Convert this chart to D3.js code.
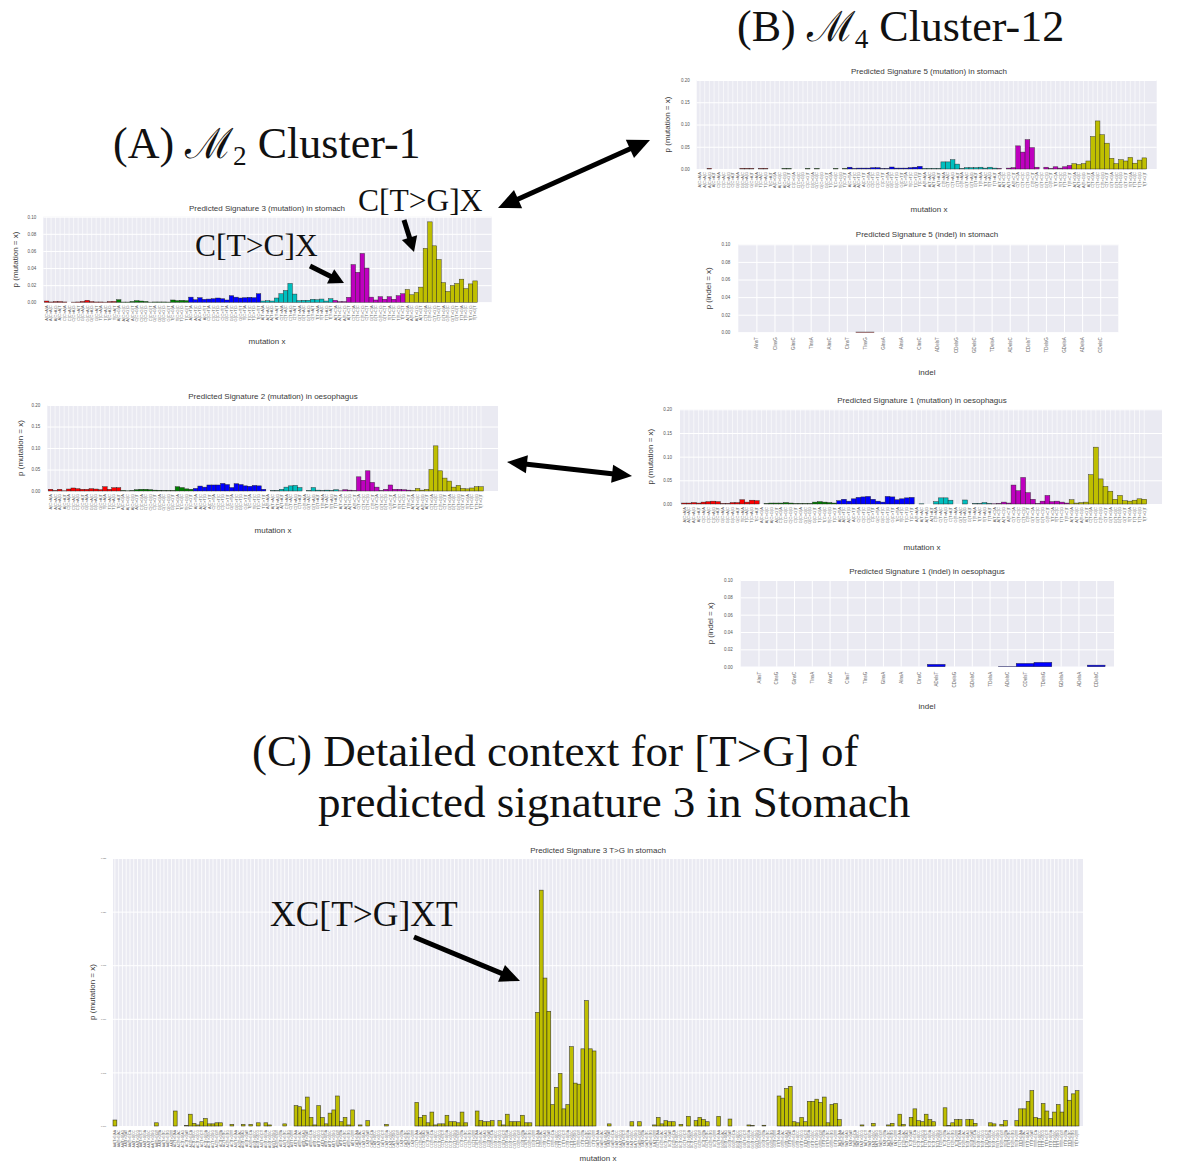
<!DOCTYPE html>
<html>
<head>
<meta charset="utf-8">
<script src="https://cdn.jsdelivr.net/npm/d3@7"></script>
<style>
  body { margin: 0; background: #fff; }
  svg { display: block; }
</style>
</head>
<body>
<script>
// ---------- categories ----------
const bases = ["A", "C", "G", "T"];
const mutationTypes = ["C>A", "C>G", "C>T", "T>A", "T>C", "T>G"];
const typeColors = ["#ff0000", "#008000", "#0000ff", "#00bfbf", "#bf00bf", "#bfbf00"];
const indelLabels = ["AInsT", "CInsG", "GInsC", "TInsA", "AInsC", "CInsT", "TInsG", "GInsA", "AInsA", "CInsC",
                     "ADelsT", "CDelsG", "GDelsC", "TDelsA", "ADelsC", "CDelsT", "TDelsG", "GDelsA", "ADelsA", "CDelsC"];

// ---------- tick values ----------
const yTicks10 = [0, 0.02, 0.04, 0.06, 0.08, 0.10];
const yTicks20 = [0, 0.05, 0.10, 0.15, 0.20];
const yTicksTG = [0, 0.005, 0.010, 0.015, 0.020, 0.025];

// ---------- series ----------
// Predicted Signature 3 (mutation) in stomach
const sig3Stomach = [
  0.0015, 0.0004, 0.0008, 0.0008, 0.0004, 0, 0.0002, 0.0004, 0.001, 0.0023, 0.0008, 0.0004, 0.0004, 0.0002, 0.0008, 0.001,
  0.003, 0.0003, 0.0003, 0.001, 0.0019, 0.0015, 0.001, 0.0002, 0.0004, 0.0004, 0.0004, 0.0003, 0.0027, 0.0019, 0.0023, 0.0019,
  0.006, 0.003, 0.0054, 0.0035, 0.0038, 0.0042, 0.005, 0.0042, 0.0027, 0.0077, 0.006, 0.005, 0.0054, 0.0058, 0.0054, 0.01,
  0.0015, 0.0019, 0.0015, 0.005, 0.01, 0.0138, 0.022, 0.0096, 0.0019, 0.0023, 0.0023, 0.0035, 0.003, 0.0038, 0.0015, 0.0042,
  0.0023, 0.0008, 0.0008, 0.0058, 0.044, 0.035, 0.057, 0.04, 0.006, 0.0027, 0.0065, 0.0035, 0.0065, 0.0035, 0.0077, 0.01,
  0.015, 0.0088, 0.0115, 0.0177, 0.063, 0.094, 0.066, 0.05, 0.023, 0.0127, 0.0196, 0.022, 0.027, 0.016, 0.0215, 0.025
];
// Predicted Signature 2 (mutation) in oesophagus
const sig2Oesophagus = [
  0.004, 0.001, 0.004, 0.0005, 0.0046, 0.007, 0.0054, 0.004, 0.004, 0.0054, 0.0046, 0.003, 0.01, 0.004, 0.0077, 0.0077,
  0.001, 0.0005, 0.001, 0.003, 0.004, 0.004, 0.003, 0.002, 0.0015, 0.001, 0.001, 0.001, 0.01, 0.008, 0.005, 0.004,
  0.006, 0.0115, 0.009, 0.014, 0.014, 0.014, 0.0177, 0.015, 0.008, 0.017, 0.015, 0.012, 0.011, 0.013, 0.012, 0.004,
  0, 0.001, 0.001, 0.004, 0.009, 0.012, 0.013, 0.008, 0, 0.001, 0.008, 0.002, 0.001, 0.002, 0.001, 0.003,
  0.0005, 0.003, 0.002, 0.001, 0.033, 0.025, 0.047, 0.02, 0.009, 0.001, 0.004, 0.014, 0.004, 0.004, 0.003, 0.002,
  0.001, 0.006, 0.002, 0.004, 0.05, 0.105, 0.047, 0.03, 0.023, 0.009, 0.013, 0.006, 0.005, 0.007, 0.01, 0.01
];
// Predicted Signature 5 (mutation) in stomach
const sig5Stomach = [
  0, 0, 0.001, 0, 0, 0, 0, 0, 0, 0.001, 0.001, 0.001, 0, 0.001, 0.001, 0,
  0, 0, 0.001, 0.001, 0, 0, 0, 0.001, 0, 0.001, 0, 0, 0, 0.001, 0, 0.001,
  0.004, 0.001, 0.002, 0.002, 0.002, 0.003, 0.003, 0.001, 0.001, 0.0045, 0.002, 0.002, 0.002, 0.003, 0.004, 0.006,
  0.001, 0.001, 0.001, 0.001, 0.016, 0.016, 0.021, 0.011, 0.001, 0.003, 0.003, 0.003, 0.004, 0.002, 0.004, 0.002,
  0.001, 0, 0.002, 0.003, 0.052, 0.038, 0.066, 0.048, 0.004, 0, 0.004, 0.001, 0.005, 0.002, 0.005, 0.008,
  0.012, 0.01, 0.012, 0.018, 0.073, 0.108, 0.077, 0.058, 0.024, 0.012, 0.021, 0.018, 0.026, 0.013, 0.02, 0.025
];
// Predicted Signature 5 (indel) in stomach
const sig5StomachIndel = [0, 0, 0, 0, 0, 0, 0.0003, 0, 0, 0, 0, 0, 0, 0, 0, 0, 0, 0, 0, 0];
// Predicted Signature 1 (mutation) in oesophagus
const sig1Oesophagus = [
  0.002, 0.002, 0.003, 0.002, 0.004, 0.005, 0.006, 0.005, 0.001, 0.001, 0.003, 0.003, 0.009, 0.004, 0.008, 0.007,
  0, 0.001, 0.002, 0.002, 0.002, 0.003, 0.002, 0.001, 0.001, 0.001, 0.001, 0.004, 0.005, 0.004, 0.003, 0.002,
  0.007, 0.01, 0.006, 0.011, 0.014, 0.015, 0.016, 0.01, 0.006, 0.004, 0.016, 0.015, 0.009, 0.011, 0.013, 0.014,
  0, 0.0005, 0, 0, 0.005, 0.013, 0.013, 0.008, 0, 0, 0.0085, 0, 0.001, 0.001, 0.003, 0.001,
  0.0005, 0.001, 0.004, 0.002, 0.04, 0.028, 0.056, 0.024, 0.01, 0.001, 0.006, 0.018, 0.005, 0.006, 0.004, 0.002,
  0.009, 0.002, 0.003, 0.004, 0.062, 0.12, 0.053, 0.037, 0.027, 0.01, 0.018, 0.007, 0.006, 0.008, 0.011, 0.01
];
// Predicted Signature 1 (indel) in oesophagus
const sig1OesophagusIndel = [0, 0, 0, 0, 0, 0, 0, 0, 0, 0, 0.0027, 0, 0, 0, 0.0003, 0.0038, 0.005, 0, 0, 0.0018];
// Predicted Signature 3 T>G in stomach (two flanking bases on each side)
const sig3TGStomach = [
  0.00056, 0, 0, 0, 0, 0, 0, 0, 0, 0, 0, 0.0003, 0, 0, 0, 0,
  0.0014, 0, 0, 0.00005, 0.0011, 0.00025, 0.0001, 0.0004, 0.0007, 0.0002, 0.0002, 0.0003, 0.0003, 0, 0, 0.00015,
  0, 0, 0.00015, 0, 0.00015, 0, 0.0003, 0, 0.0003, 0.0001, 0, 0, 0, 0.0002, 0, 0,
  0.0019, 0.0018, 0.0015, 0.0027, 0.0008, 0.0001, 0.0019, 0.0008, 0.0002, 0.0012, 0.0015, 0.0028, 0.0004, 0.0008, 0.0001, 0.0015,
  0, 0.0001, 0, 0.0005, 0, 0, 0, 0, 0.00015, 0, 0, 0, 0, 0, 0, 0,
  0.0022, 0.0008, 0.001, 0.0003, 0.0013, 0.0001, 0.0002, 0.0002, 0.001, 0.0004, 0.0004, 0.0003, 0.0013, 0.0003, 0, 0,
  0.0014, 0.0005, 0.0004, 0.0004, 0.0005, 0, 0.0005, 0.0001, 0.0011, 0.0004, 0.0004, 0.0004, 0.001, 0.0003, 0.0003, 0,
  0.0106, 0.022, 0.0138, 0.0107, 0.002, 0.0036, 0.0049, 0.0016, 0.002, 0.0074, 0.004, 0.0039, 0.0072, 0.0117, 0.0072, 0.007,
  0, 0, 0, 0.0002, 0, 0, 0, 0, 0, 0.0004, 0, 0.0004, 0, 0, 0, 0.0001,
  0.0008, 0.0002, 0.0005, 0.0004, 0.0004, 0, 0.00015, 0, 0.0009, 0, 0.0005, 0.0008, 0.0006, 0.0004, 0, 0,
  0.0009, 0, 0, 0.00065, 0, 0, 0, 0, 0.0001, 0.00005, 0, 0, 0.00007, 0, 0, 0,
  0.0028, 0.0026, 0.0035, 0.0037, 0.0004, 0.0003, 0.0008, 0.0004, 0.0023, 0.0023, 0.0025, 0.0022, 0.0027, 0.0003, 0.002, 0.0021,
  0.0006, 0, 0, 0, 0, 0, 0.0001, 0, 0, 0.00025, 0, 0, 0, 0.0001, 0.00025, 0,
  0.0011, 0.00015, 0, 0.0008, 0.0016, 0.0005, 0.0004, 0.0011, 0.0006, 0.0004, 0, 0, 0.0017, 0.00005, 0.0003, 0.0006,
  0.0006, 0, 0.0006, 0.0006, 0.00025, 0, 0, 0, 0.0003, 0.0002, 0, 0.00015, 0.0005, 0, 0, 0.0005,
  0.0016, 0.0016, 0.0023, 0.0033, 0.0008, 0.0007, 0.0021, 0.0014, 0.0007, 0.0013, 0.002, 0.0013, 0.0037, 0.0024, 0.003, 0.0033
];

// ---------- derived label / colour tables ----------
const mutationLabels = mutationTypes.flatMap(t => bases.flatMap(a => bases.map(b => `${a}[${t}]${b}`)));
const mutationColors = mutationTypes.flatMap((t, i) => d3.range(bases.length * bases.length).map(() => typeColors[i]));
const tgLabels = bases.flatMap(a => bases.flatMap(b => bases.flatMap(c => bases.map(d => `${a}${b}[T>G]${c}${d}`))));
const tgColors = tgLabels.map(() => typeColors[5]);
const indelColors = indelLabels.map(() => typeColors[0]);
const indelColorsBlue = indelLabels.map(() => typeColors[2]);

// ---------- drawing ----------
const SANS = "'Liberation Sans', Arial, Helvetica, sans-serif";
const SERIF = "'Liberation Serif', 'Times New Roman', 'DejaVu Serif', serif";
const W = 1178, H = 1163;
const svg = d3.select("body").append("svg").attr("width", W).attr("height", H);
svg.append("rect").attr("width", W).attr("height", H).attr("fill", "#fff");

function barChart(o) {
  const g = svg.append("g");
  const p = o.plot;
  const pw = p.r - p.l, ph = p.b - p.t;
  g.append("rect").attr("x", p.l).attr("y", p.t).attr("width", pw).attr("height", ph).attr("fill", "#eaeaf2");

  const y = d3.scaleLinear().domain(o.yDomain).range([p.b, p.t]);
  let xAxis, barX, bw;
  if (o.bars) {
    const x = d3.scaleBand().domain(o.labels).range(o.bars).padding(0);
    bw = x.bandwidth();
    barX = i => x(o.labels[i]);
    xAxis = d3.axisBottom(x);
  } else {
    const x = d3.scaleLinear().domain([-1, o.labels.length]).range([p.l, p.r]);
    bw = x(1) - x(0);
    barX = i => x(i) - bw / 2;
    xAxis = d3.axisBottom(x).tickValues(d3.range(o.labels.length)).tickFormat(i => o.labels[i]);
  }

  // horizontal grid + y tick labels
  const ya = g.append("g").attr("transform", `translate(${p.l},0)`)
    .call(d3.axisLeft(y).tickValues(o.yTicks).tickSize(-pw).tickSizeOuter(0)
      .tickPadding(o.yPad).tickFormat(d3.format(o.yFmt || ".2f")));
  ya.select(".domain").remove();
  ya.selectAll("line").attr("stroke", "#fff").attr("stroke-width", o.hGrid || 1);
  ya.selectAll("text").attr("font-size", o.yFs).attr("fill", "#555").attr("font-family", SANS);

  // vertical grid + rotated category labels
  const xa = g.append("g").attr("transform", `translate(0,${p.b})`)
    .call(xAxis.tickSize(-ph).tickSizeOuter(0));
  xa.select(".domain").remove();
  xa.selectAll("line").attr("stroke", "#fff").attr("stroke-width", o.vGrid || 0.6);
  xa.selectAll("text").attr("font-size", o.xFs).attr("fill", "#666").attr("font-family", SANS)
    .attr("x", 0).attr("y", 0).attr("dx", -o.xPad).attr("dy", "0.35em")
    .attr("text-anchor", "end").attr("transform", "rotate(-90)");

  // bars
  const pts = o.values.map((v, i) => ({ v, i })).filter(d => d.v > 0);
  g.append("g").selectAll("rect").data(pts).join("rect")
    .attr("x", d => barX(d.i)).attr("width", bw)
    .attr("y", d => y(d.v)).attr("height", d => y(0) - y(d.v))
    .attr("fill", d => o.colors[d.i])
    .attr("stroke", "#1a1a1a").attr("stroke-opacity", 0.8).attr("stroke-width", o.edge || 0.5);

  // titles
  g.append("text").attr("x", o.title.x).attr("y", o.title.y).attr("text-anchor", "middle")
    .attr("font-family", SANS).attr("font-size", 8).attr("fill", "#3a3a3a").text(o.title.text);
  g.append("text").attr("x", o.xLabel.x).attr("y", o.xLabel.y).attr("text-anchor", "middle")
    .attr("font-family", SANS).attr("font-size", 8).attr("fill", "#3a3a3a").text(o.xLabel.text);
  g.append("text").attr("transform", `translate(${o.yLabel.x},${(p.t + p.b) / 2}) rotate(-90)`)
    .attr("text-anchor", "middle").attr("dy", "0.35em")
    .attr("font-family", SANS).attr("font-size", 8).attr("fill", "#3a3a3a").text(o.yLabel.text);
}

// (A) left column
barChart({
  plot: { l: 43.3, t: 216.7, r: 491.7, b: 302.3 }, bars: [44.3, 477.3],
  labels: mutationLabels, values: sig3Stomach, colors: mutationColors,
  yDomain: [0, 0.10], yTicks: yTicks10, yPad: 7, yFs: 4.5, xFs: 4, xPad: 3,
  title: { text: "Predicted Signature 3 (mutation) in stomach", x: 267, y: 211 },
  xLabel: { text: "mutation x", x: 267, y: 344 },
  yLabel: { text: "p (mutation = x)", x: 15 }
});
barChart({
  plot: { l: 47.3, t: 405, r: 498, b: 491 }, bars: [48.3, 483.3],
  labels: mutationLabels, values: sig2Oesophagus, colors: mutationColors,
  yDomain: [0, 0.20], yTicks: yTicks20, yPad: 7, yFs: 4.5, xFs: 4, xPad: 3,
  title: { text: "Predicted Signature 2 (mutation) in oesophagus", x: 273, y: 399 },
  xLabel: { text: "mutation x", x: 273, y: 533 },
  yLabel: { text: "p (mutation = x)", x: 20 }
});

// (B) right column
barChart({
  plot: { l: 696.7, t: 80, r: 1156.7, b: 169 }, bars: [697.7, 1146.7],
  labels: mutationLabels, values: sig5Stomach, colors: mutationColors,
  yDomain: [0, 0.20], yTicks: yTicks20, yPad: 7, yFs: 4.5, xFs: 4, xPad: 3,
  title: { text: "Predicted Signature 5 (mutation) in stomach", x: 929, y: 74 },
  xLabel: { text: "mutation x", x: 929, y: 212 },
  yLabel: { text: "p (mutation = x)", x: 667 }
});
barChart({
  plot: { l: 738.3, t: 244.3, r: 1118.3, b: 332.3 },
  labels: indelLabels, values: sig5StomachIndel, colors: indelColors,
  yDomain: [0, 0.10], yTicks: yTicks10, yPad: 8, yFs: 4.5, xFs: 4.5, xPad: 5, vGrid: 1,
  title: { text: "Predicted Signature 5 (indel) in stomach", x: 927, y: 237 },
  xLabel: { text: "indel", x: 927, y: 375 },
  yLabel: { text: "p (indel = x)", x: 708 }
});
barChart({
  plot: { l: 680, t: 409.3, r: 1162, b: 504 }, bars: [681.7, 1146.7],
  labels: mutationLabels, values: sig1Oesophagus, colors: mutationColors,
  yDomain: [0, 0.20], yTicks: yTicks20, yPad: 8, yFs: 4.5, xFs: 4, xPad: 3,
  title: { text: "Predicted Signature 1 (mutation) in oesophagus", x: 922, y: 403 },
  xLabel: { text: "mutation x", x: 922, y: 550 },
  yLabel: { text: "p (mutation = x)", x: 650 }
});
barChart({
  plot: { l: 740.7, t: 580, r: 1114, b: 666.7 },
  labels: indelLabels, values: sig1OesophagusIndel, colors: indelColorsBlue,
  yDomain: [0, 0.10], yTicks: yTicks10, yPad: 8, yFs: 4.5, xFs: 4.5, xPad: 5, vGrid: 1,
  title: { text: "Predicted Signature 1 (indel) in oesophagus", x: 927, y: 574 },
  xLabel: { text: "indel", x: 927, y: 709 },
  yLabel: { text: "p (indel = x)", x: 710 }
});

// (C) detailed T>G context
barChart({
  plot: { l: 113, t: 858, r: 1083, b: 1126 }, bars: [113, 1079],
  labels: tgLabels, values: sig3TGStomach, colors: tgColors,
  yDomain: [0, 0.025], yTicks: yTicksTG, yFmt: ".3f", yPad: 7, yFs: 2, xFs: 3.3, xPad: 4,
  vGrid: 0.8, hGrid: 1, edge: 0.6,
  title: { text: "Predicted Signature 3 T>G in stomach", x: 598, y: 853 },
  xLabel: { text: "mutation x", x: 598, y: 1161 },
  yLabel: { text: "p (mutation = x)", x: 92 }
});

// ---------- panel headings ----------
function heading(x, y, size, parts) {
  const t = svg.append("text").attr("x", x).attr("y", y)
    .attr("font-family", SERIF).attr("font-size", size).attr("fill", "#111");
  parts.forEach(p => {
    const s = t.append("tspan").text(p.text);
    if (p.sub) s.attr("font-size", size * 0.62).attr("dy", 7);
    if (p.after) s.attr("dy", -7);
    if (p.script) s.attr("font-family", "'DejaVu Serif', serif").attr("font-size", size * 0.95);
  });
}
heading(113, 158, 44, [{ text: "(A) " }, { text: "\u2133", script: true }, { text: "2", sub: true }, { text: " Cluster-1", after: true }]);
heading(737, 41, 44, [{ text: "(B) " }, { text: "\u2133", script: true }, { text: "4", sub: true }, { text: " Cluster-12", after: true }]);
heading(252, 766, 45, [{ text: "(C) Detailed context for [T>G] of" }]);
heading(318, 817, 45, [{ text: "predicted signature 3 in Stomach" }]);

// ---------- callouts ----------
function callout(x, y, size, text) {
  svg.append("text").attr("x", x).attr("y", y).attr("font-family", SERIF)
    .attr("font-size", size).attr("fill", "#111").text(text);
}
callout(358, 211, 31.5, "C[T>G]X");
callout(195, 256, 31.5, "C[T>C]X");
callout(270, 926, 35.5, "XC[T>G]XT");

function arrow(x1, y1, x2, y2, both, w, hl, hw) {
  const dx = x2 - x1, dy = y2 - y1, L = Math.hypot(dx, dy);
  const ux = dx / L, uy = dy / L, nx = -uy, ny = ux;
  const head = (tx, ty, sx, sy) => {
    const bx = tx - sx * hl, by = ty - sy * hl;
    svg.append("path").attr("fill", "#000")
      .attr("d", `M${tx},${ty}L${bx + nx * hw},${by + ny * hw}L${bx - nx * hw},${by - ny * hw}Z`);
  };
  const sx = both ? x1 + ux * hl * 0.9 : x1, sy = both ? y1 + uy * hl * 0.9 : y1;
  svg.append("line").attr("x1", sx).attr("y1", sy)
    .attr("x2", x2 - ux * hl * 0.9).attr("y2", y2 - uy * hl * 0.9)
    .attr("stroke", "#000").attr("stroke-width", w);
  head(x2, y2, ux, uy);
  if (both) head(x1, y1, -ux, -uy);
}
arrow(498, 208, 650, 140, true, 5, 22, 10);
arrow(507, 462, 632, 476, true, 5, 20, 9);
arrow(404, 220, 414, 252, false, 5, 15, 8);
arrow(310, 266, 344, 283, false, 5, 15, 8);
arrow(414, 937, 520, 981, false, 5, 20, 9);
</script>
</body>
</html>
